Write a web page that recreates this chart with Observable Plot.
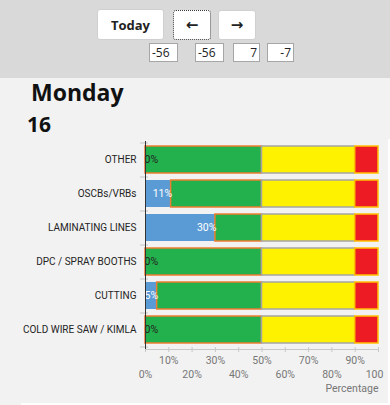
<!DOCTYPE html>
<html>
<head>
<meta charset="utf-8">
<script src="https://cdn.jsdelivr.net/npm/d3@7"></script>
<script src="https://cdn.jsdelivr.net/npm/@observablehq/plot@0.6"></script>
<style>
  html, body { margin: 0; padding: 0; background: #ffffff; }
  #page { position: relative; width: 390px; height: 405px; overflow: hidden; background: #ffffff; font-family: "Segoe UI", "Open Sans", sans-serif; }
  #header { position: absolute; left: 0; top: 0; width: 390px; height: 78px; background: #d9d9d9; }
  #body { position: absolute; left: 0; top: 78px; width: 388px; height: 325px; background: #f2f2f2; }
  #bodyleft { position: absolute; left: 0; top: 78px; width: 21px; height: 327px; background: #f2f2f2; }
  #bodytop { position: absolute; left: 0; top: 78px; width: 390px; height: 61px; background: #f2f2f2; }
  .btn { position: absolute; box-sizing: border-box; background: #ffffff; border: 1px solid #d0d0d0; border-radius: 3px; display: flex; align-items: center; justify-content: center; font-weight: bold; color: #222; }
  .box { position: absolute; box-sizing: border-box; background: #ffffff; border: 1px solid #a6a6a6; height: 19px; font-size: 12px; line-height: 17px; color: #222; padding: 0 2px; font-family: "Open Sans", sans-serif; }
  .title { position: absolute; font-family: "Open Sans", sans-serif; font-weight: bold; color: #111; white-space: nowrap; }
  #chart { position: absolute; left: 0; top: 138px; }
</style>
</head>
<body>
<div id="page">
  <div id="header"></div>
  <div id="body"></div>
  <div id="bodyleft"></div>
  <div id="bodytop"></div>
  <div class="btn" style="left:97px;top:9px;width:67px;height:31px;font-size:13px;font-family:'Open Sans',sans-serif;">Today</div>
  <div class="btn" style="left:173px;top:10px;width:38px;height:30px;border:1px dotted #333;font-size:15px;font-family:'DejaVu Sans',sans-serif;">&#8592;</div>
  <div class="btn" style="left:218px;top:10px;width:38px;height:30px;font-size:15px;font-family:'DejaVu Sans',sans-serif;">&#8594;</div>
  <div class="box" style="left:149px;top:43px;width:29px;text-align:left;">-56</div>
  <div class="box" style="left:195px;top:43px;width:29px;text-align:left;">-56</div>
  <div class="box" style="left:233px;top:43px;width:27px;text-align:right;">7</div>
  <div class="box" style="left:267px;top:43px;width:27px;text-align:right;">-7</div>
  <div class="title" style="left:31px;top:76px;font-size:23px;">Monday</div>
  <div class="title" style="left:27px;top:110px;font-size:21px;">16</div>
  <div id="chart"></div>
</div>
<script>
const categories = ["OTHER", "OSCBs/VRBs", "LAMINATING LINES", "DPC / SPRAY BOOTHS", "CUTTING", "COLD WIRE SAW / KIMLA"];
const actualValues = [0, 11, 30, 0, 5, 0];
const greenEnd = 50;
const yellowEnd = 90;
const redEnd = 100;
const xTicksUpper = [10, 30, 50, 70, 90];
const xTicksLower = [0, 20, 40, 60, 80];
const xTickLast = [100];
const xTicksAll = [0, 10, 20, 30, 40, 50, 60, 70, 80, 90, 100];

const blueSegs = categories.map((c, i) => ({cat: c, x1: 0, x2: actualValues[i]}));
const greenSegs = categories.map((c, i) => ({cat: c, x1: actualValues[i], x2: greenEnd}));
const yellowSegs = categories.map(c => ({cat: c, x1: greenEnd, x2: yellowEnd}));
const redSegs = categories.map(c => ({cat: c, x1: yellowEnd, x2: redEnd}));
const labels = categories.map((c, i) => ({cat: c, v: actualValues[i]}));
const bigLabels = labels.filter(d => d.v >= 8);
const smallLabels = labels.filter(d => d.v < 8);

const chart = Plot.plot({
  width: 390,
  height: 262,
  marginLeft: 145,
  marginRight: 12,
  marginTop: 5,
  marginBottom: 53,
  style: {background: "transparent", fontFamily: "'Segoe UI', Roboto, sans-serif", overflow: "visible"},
  x: {domain: [0, 100]},
  y: {domain: categories, paddingInner: 0.2, paddingOuter: 0.1},
  marks: [
    Plot.axisY({tickSize: 0, tickPadding: 9, fontSize: 10, color: "#252423", label: null}),
    Plot.axisY({tickSize: 8, dx: 3, dy: -17, stroke: "#c4c4c4", tickFormat: () => "", label: null}),
    Plot.axisY({ticks: [categories[categories.length - 1]], tickSize: 8, dx: 3, dy: 17, stroke: "#c4c4c4", tickFormat: () => "", label: null}),
    Plot.frame({anchor: "bottom", dy: 2, stroke: "#c8c8c8"}),
    Plot.axisX({ticks: xTicksAll, tickSize: 5, stroke: "#c8c8c8", tickFormat: () => "", label: null}),
    Plot.text(xTicksUpper, {x: d => d, text: d => d + "%", frameAnchor: "bottom", dy: 16, fontSize: 10.5, fill: "#777777"}),
    Plot.text(xTicksLower, {x: d => d, text: d => d + "%", frameAnchor: "bottom", dy: 30, fontSize: 10.5, fill: "#777777"}),
    Plot.text(xTickLast, {x: d => d, text: d => String(d), frameAnchor: "bottom", dy: 30, dx: -4, fontSize: 10.5, fill: "#777777"}),
    Plot.text(["Percentage"], {x: 100, text: d => d, frameAnchor: "bottom", dy: 44, textAnchor: "end", fontSize: 10.5, fill: "#777777"}),
    Plot.barX(blueSegs, {x1: "x1", x2: "x2", y: "cat", fill: "#5b9bd5"}),
    Plot.barX(greenSegs, {x1: "x1", x2: "x2", y: "cat", fill: "#22b14c", stroke: "#ed7d31", strokeWidth: 1.5}),
    Plot.barX(yellowSegs, {x1: "x1", x2: "x2", y: "cat", fill: "#fff200", stroke: "#a5a5a5", strokeWidth: 1.5}),
    Plot.barX(redSegs, {x1: "x1", x2: "x2", y: "cat", fill: "#ed1c24", stroke: "#ffc000", strokeWidth: 1.5}),
    Plot.text(bigLabels, {x: "v", y: "cat", text: d => d.v + "%", textAnchor: "end", dx: 1, fill: "#ffffff", fontSize: 10.5}),
    Plot.text(smallLabels, {x: 0, y: "cat", text: d => d.v + "%", textAnchor: "start", dx: -1, fill: d => d.v > 0 ? "#ffffff" : "#222222", fontSize: 10.5}),
    Plot.ruleX([0], {stroke: "#333333", strokeWidth: 1, insetTop: -2, insetBottom: -2})
  ]
});
document.getElementById("chart").appendChild(chart);
</script>
</body>
</html>
